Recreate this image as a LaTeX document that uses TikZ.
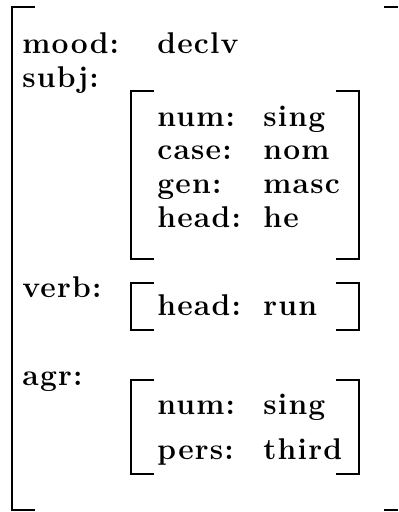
\documentclass[tikz,border=0pt]{standalone}
\usepackage{fontspec}
\usepackage{tikz}
\newfontfamily\featfont[LetterSpace=4]{Latin Modern Roman}

\begin{document}
\begin{tikzpicture}[x=0.5pt, y=-0.5pt,
  feat/.style={anchor=base west, inner sep=0pt,
    font=\featfont\fontsize{15}{18}\selectfont\bfseries},
  brk/.style={line width=1pt}]
\useasboundingbox (0,0) rectangle (398,512);
% outer matrix
\draw[brk] (35,7) -- (12,7) -- (12,510) -- (35,510);
\draw[brk] (384,7) -- (398,7);
\draw[brk] (384,510) -- (398,510);
\node[feat] (mood) at (22,54) {mood:};
\node[feat] (declv) at (157,54) {declv};
\node[feat] (subj) at (22,88) {subj:};
\node[feat] (verb) at (22,298) {verb:};
\node[feat] (agr) at (22,385) {agr:};
% subj value
\draw[brk] (154,91) -- (131,91) -- (131,259) -- (154,259);
\draw[brk] (336,91) -- (359,91) -- (359,259) -- (336,259);
\node[feat] (snum) at (157,127) {num:};
\node[feat] (ssing) at (263,127) {sing};
\node[feat] (scase) at (157,160) {case:};
\node[feat] (snom) at (263,160) {nom};
\node[feat] (sgen) at (157,194) {gen:};
\node[feat] (smasc) at (263,194) {masc};
\node[feat] (shead) at (157,228) {head:};
\node[feat] (she) at (263,228) {he};
% verb value
\draw[brk] (154,283) -- (131,283) -- (131,330) -- (154,330);
\draw[brk] (336,283) -- (359,283) -- (359,330) -- (336,330);
\node[feat] (vhead) at (157,315) {head:};
\node[feat] (vrun) at (263,315) {run};
% agr value
\draw[brk] (154,380) -- (131,380) -- (131,474) -- (154,474);
\draw[brk] (336,380) -- (359,380) -- (359,474) -- (336,474);
\node[feat] (anum) at (157,414) {num:};
\node[feat] (asing) at (263,414) {sing};
\node[feat] (apers) at (157,459) {pers:};
\node[feat] (athird) at (263,459) {third};
\end{tikzpicture}
\end{document}
